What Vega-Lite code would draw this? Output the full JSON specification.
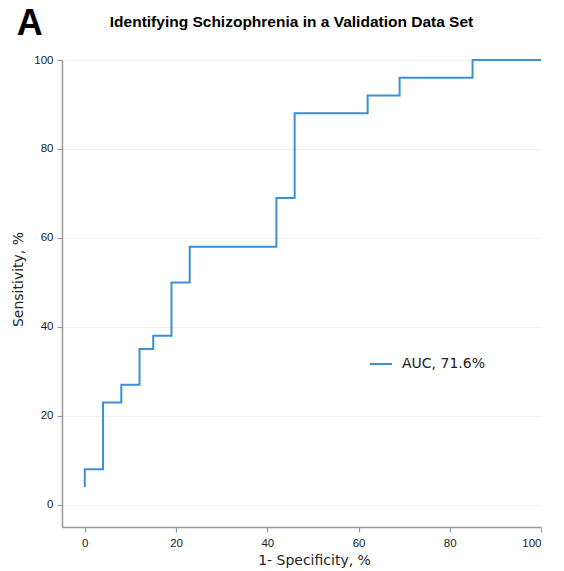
{
  "$schema": "https://vega.github.io/schema/vega-lite/v6.json",
  "width": 479,
  "height": 467,
  "autosize": {"type": "none"},
  "padding": {"left": 62, "top": 60, "right": 23, "bottom": 44},
  "background": "white",
  "title": {
    "text": "Identifying Schizophrenia in a Validation Data Set",
    "anchor": "middle",
    "frame": "group",
    "dx": -10,
    "offset": -36,
    "baseline": "alphabetic",
    "font": "Liberation Sans",
    "fontSize": 15.5,
    "fontWeight": "bold",
    "color": "#000000"
  },
  "config": {
    "view": {"stroke": null},
    "axis": {
      "domainColor": "#999999",
      "domainWidth": 1.5,
      "tickColor": "#999999",
      "tickWidth": 1.2,
      "tickSize": 5,
      "labelFont": "Liberation Sans",
      "labelFontSize": 11.5,
      "labelColor": "#1a1a1a",
      "titleFont": "DejaVu Sans",
      "titleFontSize": 14,
      "titleFontWeight": "normal",
      "titleColor": "#222222",
      "gridColor": "#efefef",
      "gridWidth": 1
    }
  },
  "layer": [
    {
      "data": {
        "values": [
          {"order": 1, "fpr": 0, "tpr": 4, "series": "AUC, 71.6%"},
          {"order": 2, "fpr": 0, "tpr": 8, "series": "AUC, 71.6%"},
          {"order": 3, "fpr": 4, "tpr": 23, "series": "AUC, 71.6%"},
          {"order": 4, "fpr": 8, "tpr": 27, "series": "AUC, 71.6%"},
          {"order": 5, "fpr": 12, "tpr": 35, "series": "AUC, 71.6%"},
          {"order": 6, "fpr": 15, "tpr": 38, "series": "AUC, 71.6%"},
          {"order": 7, "fpr": 19, "tpr": 50, "series": "AUC, 71.6%"},
          {"order": 8, "fpr": 23, "tpr": 58, "series": "AUC, 71.6%"},
          {"order": 9, "fpr": 42, "tpr": 69, "series": "AUC, 71.6%"},
          {"order": 10, "fpr": 46, "tpr": 88, "series": "AUC, 71.6%"},
          {"order": 11, "fpr": 62, "tpr": 92, "series": "AUC, 71.6%"},
          {"order": 12, "fpr": 69, "tpr": 96, "series": "AUC, 71.6%"},
          {"order": 13, "fpr": 85, "tpr": 100, "series": "AUC, 71.6%"},
          {"order": 14, "fpr": 100, "tpr": 100, "series": "AUC, 71.6%"}
        ]
      },
      "mark": {"type": "line", "interpolate": "step-after", "strokeWidth": 2},
      "encoding": {
        "x": {
          "field": "fpr",
          "type": "quantitative",
          "scale": {"domain": [-5, 100], "nice": false, "zero": false},
          "axis": {
            "values": [0, 20, 40, 60, 80, 100],
            "grid": false,
            "title": "1- Specificity, %",
            "labelPadding": 5,
            "titleX": 252,
            "titleY": 37,
            "titleBaseline": "alphabetic",
            "titleAlign": "center"
          }
        },
        "y": {
          "field": "tpr",
          "type": "quantitative",
          "scale": {"domain": [-5, 100], "nice": false, "zero": false},
          "axis": {
            "values": [0, 20, 40, 60, 80, 100],
            "grid": true,
            "title": "Sensitivity, %",
            "labelPadding": 4,
            "titleX": -40,
            "titleY": 219,
            "titleAngle": -90,
            "titleBaseline": "alphabetic",
            "titleAlign": "center"
          }
        },
        "order": {"field": "order", "type": "quantitative"},
        "color": {
          "field": "series",
          "type": "nominal",
          "scale": {"range": ["#3d8fd6"]},
          "legend": {
            "title": null,
            "orient": "none",
            "legendX": 307,
            "legendY": 292,
            "padding": 0,
            "symbolType": "stroke",
            "symbolSize": 484,
            "symbolStrokeWidth": 2,
            "labelOffset": 9,
            "labelFont": "DejaVu Sans",
            "labelFontSize": 14,
            "labelColor": "#222222"
          }
        }
      }
    },
    {
      "data": {"values": [{"label": "A"}]},
      "mark": {
        "type": "text",
        "font": "Liberation Sans",
        "fontSize": 36,
        "fontWeight": "bold",
        "align": "left",
        "baseline": "alphabetic",
        "color": "#000000"
      },
      "encoding": {
        "text": {"field": "label"},
        "x": {"datum": -14.9},
        "y": {"datum": 105.6}
      }
    }
  ]
}
